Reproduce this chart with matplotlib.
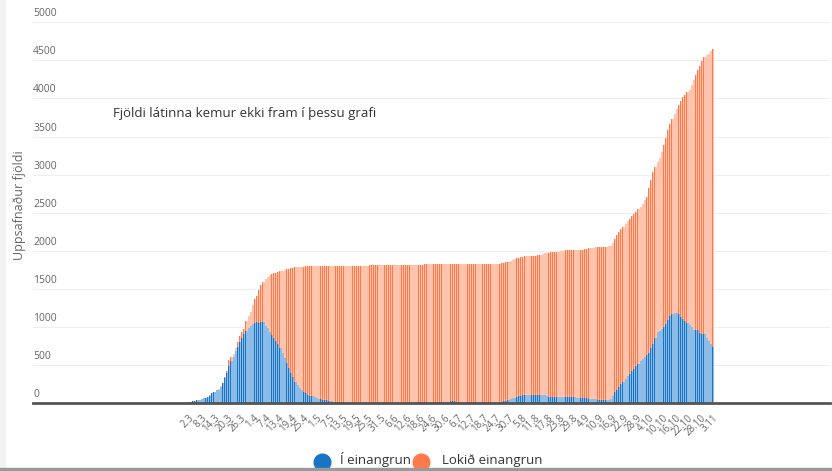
import matplotlib
matplotlib.use("Agg")
import matplotlib.pyplot as plt
import matplotlib.transforms as mtransforms
from matplotlib.lines import Line2D
from matplotlib.patches import Rectangle
import numpy as np

plt.rcParams['font.family'] = ['Open Sans', 'DejaVu Sans']

# daily values from 2.3 to 3.11 (2020)
mar_active = [8, 14, 22, 30, 38, 45, 52, 60, 72, 82, 98, 125, 145, 165, 175, 214, 260, 330, 400, 480,
              550, 600, 680, 740, 800, 860, 910, 950, 985, 1015]
apr_active = [1040, 1055, 1060, 1055, 1067, 1060, 1015, 980, 935, 895, 855, 820, 780, 720, 660, 590, 520, 460,
              400, 340, 280, 230, 195, 170, 150, 127, 110, 98, 88, 75]
may_active = [65, 55, 48, 44, 40, 37, 30, 24, 18, 14, 11, 9, 8, 7, 6, 6, 5, 5, 4, 4, 4, 3, 3, 3, 3, 3, 3, 3,
              3, 3, 3]
jun_active = [3, 3, 3, 4, 4, 4, 5, 5, 5, 5, 6, 6, 6, 6, 7, 7, 7, 7, 8, 8, 8, 9, 9, 10, 10, 12, 15, 17, 18, 18]
jul_active = [19, 19, 20, 20, 20, 19, 19, 18, 18, 18, 17, 10, 9, 9, 8, 8, 8, 8, 7, 7, 7, 7, 8, 8, 9, 10, 14,
              22, 32, 44, 55]
aug_active = [62, 72, 80, 88, 95, 102, 105, 108, 110, 110, 108, 106, 105, 104, 102, 100, 95, 85, 80, 78, 76,
              75, 75, 74, 74, 74, 74, 74, 74, 73, 72]
sep_active = [72, 70, 68, 65, 62, 58, 55, 52, 50, 45, 40, 40, 40, 42, 45, 55, 90, 140, 175, 210, 250, 280,
              315, 350, 385, 420, 450, 480, 515, 550]
oct_active = [580, 605, 625, 660, 720, 775, 850, 930, 950, 975, 1000, 1040, 1090, 1140, 1170, 1185, 1180,
              1165, 1130, 1100, 1075, 1050, 1030, 1000, 965, 960, 965, 920, 910, 900, 850]
nov_active = [820, 780, 735]

mar_total = [8, 14, 22, 30, 38, 45, 52, 60, 72, 82, 100, 128, 150, 168, 178, 218, 265, 340, 420, 560,
             600, 650, 720, 800, 885, 935, 975, 1080, 1140, 1200]
apr_total = [1290, 1360, 1410, 1480, 1545, 1590, 1630, 1660, 1680, 1693, 1703, 1712, 1720, 1730, 1740, 1750,
             1758, 1765, 1772, 1777, 1781, 1785, 1788, 1790, 1792, 1793, 1794, 1795, 1796, 1797]
may_total = [1798, 1798, 1799, 1799, 1799, 1800, 1800, 1800, 1801, 1801, 1801, 1802, 1802, 1802, 1802, 1803,
             1803, 1803, 1804, 1804, 1804, 1804, 1805, 1805, 1805, 1806, 1808, 1809, 1810, 1810, 1810]
jun_total = [1810, 1810, 1811, 1811, 1811, 1812, 1812, 1812, 1812, 1813, 1813, 1813, 1814, 1814, 1815, 1816,
             1817, 1818, 1818, 1819, 1820, 1820, 1821, 1822, 1822, 1823, 1823, 1823, 1823, 1823]
jul_total = [1823, 1823, 1823, 1823, 1824, 1824, 1824, 1824, 1824, 1825, 1825, 1825, 1825, 1825, 1826, 1826,
             1826, 1826, 1826, 1827, 1827, 1827, 1828, 1828, 1829, 1830, 1836, 1842, 1850, 1858, 1866]
aug_total = [1876, 1888, 1898, 1905, 1911, 1920, 1926, 1929, 1930, 1931, 1932, 1936, 1943, 1950, 1957, 1964,
             1970, 1975, 1978, 1980, 1983, 1985, 1990, 1995, 2000, 2005, 2007, 2008, 2008, 2009, 2010]
sep_total = [2012, 2014, 2016, 2020, 2025, 2030, 2035, 2040, 2045, 2048, 2050, 2051, 2052, 2053, 2058, 2068,
             2100, 2150, 2200, 2250, 2280, 2310, 2345, 2385, 2420, 2450, 2480, 2510, 2545, 2580]
oct_total = [2620, 2660, 2710, 2830, 2930, 3030, 3100, 3160, 3220, 3300, 3385, 3480, 3580, 3660, 3735, 3800,
             3860, 3910, 3960, 4020, 4050, 4080, 4107, 4170, 4240, 4310, 4380, 4430, 4490, 4545, 4570]
nov_total = [4590, 4620, 4653]

tick_labels = ['2.3', '8.3', '14.3', '20.3', '26.3', '1.4', '7.4', '13.4', '19.4', '25.4', '1.5', '7.5',
               '13.5', '19.5', '25.5', '31.5', '6.6', '12.6', '18.6', '24.6', '30.6', '6.7', '12.7', '18.7',
               '24.7', '30.7', '5.8', '11.8', '17.8', '23.8', '29.8', '4.9', '10.9', '16.9', '22.9', '28.9',
               '4.10', '10.10', '16.10', '22.10', '28.10', '3.11']
y_ticks = [0, 500, 1000, 1500, 2000, 2500, 3000, 3500, 4000, 4500, 5000]

active = np.array(mar_active + apr_active + may_active + jun_active + jul_active + aug_active
                  + sep_active + oct_active + nov_active)
total = np.array(mar_total + apr_total + may_total + jun_total + jul_total + aug_total
                 + sep_total + oct_total + nov_total)
done = total - active
x = np.arange(len(active))

blue_dark, blue_light = '#1a74c6', '#8cbde8'
orange_dark, orange_light = '#ff7a4a', '#ffc4ab'

fig = plt.figure(figsize=(8.32, 4.71), dpi=100)
ax = fig.add_axes([33 / 832, 68 / 471, 797 / 832, 380.7 / 471])

# light body of each bar, then a narrow darker stripe on its left side
ax.bar(x, active, width=1.0, color=blue_light, linewidth=0, zorder=2)
ax.bar(x, done, bottom=active, width=1.0, color=orange_light, linewidth=0, zorder=2)
ax.bar(x - 0.5, active, width=0.3, align='edge', color=blue_dark, linewidth=0, zorder=3)
ax.bar(x - 0.5, done, bottom=active, width=0.3, align='edge', color=orange_dark, linewidth=0, zorder=3)

ax.set_xlim(-73.2, 300.9)
ax.set_ylim(0, 5000)

for s in ['top', 'right', 'left']:
    ax.spines[s].set_visible(False)
ax.spines['bottom'].set_color('#555555')
ax.spines['bottom'].set_linewidth(2)
ax.spines['bottom'].set_zorder(5)

ax.set_yticks(y_ticks)
ax.yaxis.grid(True, color='#eeeeee', linewidth=0.8, zorder=0)
ax.tick_params(axis='y', length=0, labelleft=False)
ylab_tr = mtransforms.offset_copy(ax.get_yaxis_transform(), fig=fig, x=0, y=3, units='dots')
for v in y_ticks:
    ax.text(0, v, str(v), transform=ylab_tr, ha='left', va='bottom', fontsize=7.5, color='#666666')

ax.set_xticks(x[::6])
ax.set_xticklabels(tick_labels, rotation=45, ha='right', va='top', rotation_mode='anchor',
                   fontsize=7, color='#666666')
ax.tick_params(axis='x', length=0, pad=7)

fig.text(20 / 832, 1 - 205 / 471, 'Uppsafnaður fjöldi', rotation=90, ha='center', va='center',
         fontsize=9, color='#666666')
fig.text(113 / 832, 1 - 113 / 471, 'Fjöldi látinna kemur ekki fram í þessu grafi', ha='left',
         va='center', fontsize=9.5, color='#333333')

# legend at the bottom, just above the window edge
fig.add_artist(Line2D([321.5 / 832], [1 - 462 / 471], marker='o', markersize=12, color=blue_dark,
                      linestyle='none', transform=fig.transFigure))
fig.text(340 / 832, 1 - 464 / 471, 'Í einangrun', ha='left', va='baseline', fontsize=9.5, color='#333333')
fig.add_artist(Line2D([421.5 / 832], [1 - 462 / 471], marker='o', markersize=12, color=orange_dark,
                      linestyle='none', transform=fig.transFigure))
fig.text(442 / 832, 1 - 464 / 471, 'Lokið einangrun', ha='left', va='baseline', fontsize=9.5,
         color='#333333')

fig.add_artist(Rectangle((0, 0), 1, 3 / 471, transform=fig.transFigure, color='#9a9a9a', zorder=10))
fig.add_artist(Rectangle((0, 0), 5 / 832, 1, transform=fig.transFigure, color='#f3f3f3', zorder=9))

fig.savefig('out.png', dpi=100)
